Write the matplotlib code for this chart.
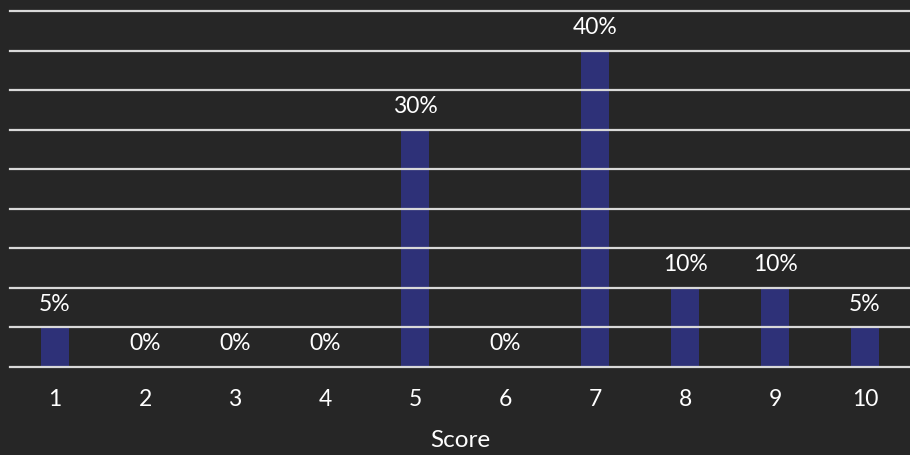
import matplotlib
matplotlib.use("Agg")
import matplotlib.pyplot as plt

scores = ["1", "2", "3", "4", "5", "6", "7", "8", "9", "10"]
shares = [5, 0, 0, 0, 30, 0, 40, 10, 10, 5]
labels = ["5%", "0%", "0%", "0%", "30%", "0%", "40%", "10%", "10%", "5%"]

bg = "#262626"
bar_color = "#2E3178"
grid_color = "#D9D9D9"
text_color = "#FFFFFF"

plt.rcParams["font.family"] = ["Lato", "DejaVu Sans"]

fig = plt.figure(figsize=(9.1, 4.55), dpi=100, facecolor=bg)
ax = fig.add_axes([10 / 910, 88 / 455, 900 / 910, 356 / 455])
ax.set_facecolor(bg)

x = list(range(len(scores)))
ax.bar(x, shares, width=0.31, color=bar_color, zorder=1)

for xi, v, lab in zip(x, shares, labels):
    ax.annotate(lab, (xi, v), xytext=(0, 12), textcoords="offset points",
                ha="center", va="baseline", color=text_color, fontsize=16.5)

ax.set_xlim(-0.5, len(scores) - 0.5)
ax.set_ylim(0, 45)
ax.set_yticks(range(0, 46, 5))
ax.yaxis.grid(True, color=grid_color, linewidth=1.6, zorder=2)
for gl in ax.get_ygridlines():
    gl.set_clip_on(False)
ax.set_axisbelow(False)
ax.tick_params(axis="y", left=False, labelleft=False)
ax.set_xticks(x)
ax.set_xticklabels(scores)
ax.tick_params(axis="x", length=0, pad=16, labelsize=16.5, colors=text_color)
for s in ax.spines.values():
    s.set_visible(False)
ax.set_xlabel("Score", color=text_color, fontsize=17.5, labelpad=14)

fig.savefig("out.png", dpi=100, facecolor=bg)
